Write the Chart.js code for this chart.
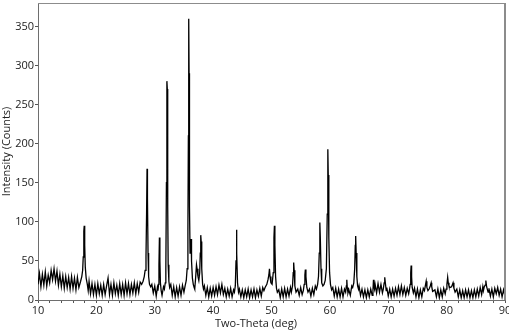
<!DOCTYPE html>
<html>
<head>
<meta charset="utf-8">
<script src="https://cdn.jsdelivr.net/npm/chart.js@4/dist/chart.umd.min.js"></script>
<style>
  html, body { margin: 0; padding: 0; background: #fff; }
  #wrap { width: 509px; height: 330px; }
</style>
</head>
<body>
<div id="wrap"><canvas id="xrd-chart"></canvas></div>
<script>
// background between the peaks, [two-theta, counts]
const lowAngle = [
    [10,20],[10.25,34],[10.5,17],[10.75,33],[11,19],[11.25,36],[11.5,18],[11.75,32],[12,22],[12.25,38],
    [12.5,26],[12.75,40],[13,24],[13.25,37],[13.5,19],[13.75,33],[14,17],[14.25,31],[14.5,15],[14.75,30],
    [15,16],[15.25,29],[15.5,14],[15.75,30],[16,15],[16.25,28],[16.5,13],[16.75,29],[17,16],
    [18.6,12],[18.75,24],[19,8],[19.25,21],[19.5,7],[19.75,20],[20,6],[20.25,21],[20.5,8],[20.75,19],
    [21,6],[21.25,20],[21.5,7],[21.75,18],[22,28],[22.25,7],[22.5,20],[22.75,6],[23,22],[23.25,8],
    [23.5,19],[23.75,6],[24,21],[24.25,7],[24.5,20],[24.75,6],[25,22],[25.25,8],[25.5,21],[25.75,7],
    [26,20],[26.25,9],[26.5,22],[26.75,8],[27,21],[27.25,10],[27.5,23]
];
const midAngle = [
    [29.5,20],[29.75,9],[30,18],[30.25,5],[30.45,16],
    [31.25,6],[31.5,17],
    [32.75,20],[33,6],[33.25,17],[33.5,4],[33.75,16],[34,5],[34.25,17],[34.5,6],[34.75,19],[35,10],
    [38.5,18],[38.75,6],[39,16],[39.25,4],[39.5,15],[39.75,5],[40,16],[40.25,6],[40.5,17],[40.75,7],
    [41,19],[41.25,9],[41.5,20],[41.75,7],[42,15],[42.25,4],[42.5,14],[42.75,5],[43,15],[43.25,4],[43.5,13],
    [44.5,14],[44.75,4],[45,13],[45.25,3],[45.5,13],[45.75,4],[46,14],[46.25,3],[46.5,13],[46.75,4],
    [47,14],[47.25,3],[47.5,13],[47.75,5],[48,15],[48.25,5],[48.5,16],
    [51.25,13],[51.5,3],[51.75,14],[52,4],[52.25,15],[52.5,4],[52.75,14],[53,5],[53.25,16],
    [54.5,14],[54.75,6],[55,16],[55.25,7],
    [56.5,14],[56.75,5],[57,15],[57.25,7],[57.5,18],
    [60.5,16],[60.75,5],[61,15],[61.25,4],[61.5,14],[61.75,4],[62,15],[62.25,4],[62.5,14],
    [63.25,13],[63.5,6],[63.75,18]
];
const highAngle = [
    [65,18],[65.25,6],[65.5,14],[65.75,4],[66,13],[66.25,3],[66.5,13],[66.75,4],[67,14],[67.25,6],
    [67.75,20],[68,9],[68.25,21],[68.5,10],[68.75,20],[69,9],
    [69.75,16],[70,5],[70.25,14],[70.5,4],[70.75,14],[71,5],[71.25,15],[71.5,6],[71.75,17],[72,7],
    [72.25,18],[72.5,7],[72.75,16],[73,6],[73.25,15],[73.5,8],
    [74.5,15],[74.75,4],[75,14],[75.25,3],[75.5,13],[75.75,4],[76,15],
    [78,13],[78.25,4],[78.5,14],[78.75,3],[79,13],[79.25,4],[79.5,15],[79.75,8],
    [81.75,14],[82,4],[82.25,13],[82.5,3],[82.75,12],[83,3],[83.25,13],[83.5,4],[83.75,13],[84,3],
    [84.25,12],[84.5,3],[84.75,13],[85,4],[85.25,14],[85.5,5],[85.75,16],[86,7],[86.2,17],
    [87.25,15],[87.5,5],[87.75,14],[88,4],[88.25,15],[88.5,8],[88.75,16],[89,6],[89.25,14],[89.5,4],
    [89.75,13],[90,5]
];
// reflections, [two-theta, counts]
const peaks = [
    [17.3,24],[17.5,30],[17.65,38],[17.75,55],[17.85,88],[17.92,95],[18.0,70],[18.1,42],[18.25,28],[18.45,20],
    [27.75,20],[28.0,24],[28.2,30],[28.35,38],[28.5,55],[28.6,110],[28.68,168],[28.75,130],[28.85,60],[28.95,30],[29.1,20],[29.3,17],
    [30.55,12],[30.65,20],[30.72,45],[30.8,80],[30.88,50],[30.97,22],[31.1,12],
    [31.65,14],[31.8,22],[31.9,40],[32.0,150],[32.08,280],[32.15,270],[32.22,120],[32.3,45],[32.42,24],[32.55,16],
    [35.2,18],[35.4,25],[35.55,40],[35.68,90],[35.76,210],[35.82,360],[35.88,290],[35.95,120],[36.05,60],
    [36.15,72],[36.22,78],[36.3,50],[36.45,28],[36.6,20],[36.75,16],
    [36.85,14],[37.0,28],[37.15,45],[37.25,40],[37.4,30],[37.55,25],[37.7,35],[37.8,60],[37.88,83],[37.95,75],
    [38.05,40],[38.2,20],[38.35,14],
    [43.65,10],[43.8,18],[43.92,50],[44.0,90],[44.07,60],[44.18,22],[44.35,10],
    [48.7,12],[48.9,16],[49.2,20],[49.4,26],[49.55,32],[49.65,40],[49.75,30],[49.9,22],[50.1,20],[50.3,35],
    [50.42,80],[50.5,95],[50.58,70],[50.7,30],[50.85,15],[51.0,10],
    [53.4,10],[53.6,18],[53.72,35],[53.8,48],[53.88,38],[54.0,18],[54.2,10],
    [55.45,12],[55.6,20],[55.72,32],[55.8,39],[55.9,30],[56.05,16],[56.25,10],
    [57.7,14],[57.9,20],[58.05,30],[58.18,60],[58.28,99],[58.36,80],[58.48,40],[58.6,22],[58.8,18],[59.0,20],
    [59.2,25],[59.4,40],[59.55,110],[59.65,193],[59.72,160],[59.82,80],[59.95,35],[60.1,20],[60.3,13],
    [62.7,10],[62.82,18],[62.9,26],[62.98,16],[63.1,9],
    [63.9,16],[64.1,22],[64.25,40],[64.35,70],[64.42,82],[64.5,60],[64.62,30],[64.75,18],[64.9,14],
    [67.38,12],[67.47,26],[67.55,18],[67.65,14],
    [69.15,14],[69.3,22],[69.4,29],[69.5,22],[69.65,12],
    [73.6,12],[73.75,20],[73.85,35],[73.92,44],[74.0,30],[74.1,16],[74.3,9],
    [76.2,12],[76.35,18],[76.5,24],[76.62,16],[76.8,12],[77.0,14],[77.2,18],[77.35,22],[77.45,17],[77.6,11],
    [79.9,14],[80.05,20],[80.18,29],[80.28,22],[80.4,18],[80.6,16],[80.85,17],[81.0,20],[81.1,22],[81.25,15],[81.45,10],
    [86.3,12],[86.45,17],[86.6,19],[86.72,25],[86.85,17],[87.0,13],[87.1,10]
];
const xTicks = [10, 20, 30, 40, 50, 60, 70, 80, 90];
const yTicks = [0, 50, 100, 150, 200, 250, 300, 350];

const points = lowAngle.concat(midAngle, highAngle, peaks)
    .sort((a, b) => a[0] - b[0])
    .map(p => ({ x: p[0], y: p[1] }));

const font = { family: '"Open Sans", "Noto Sans", sans-serif', size: 11 };

// grey box round the plot, and the x title which sits left of centre
const frame = {
    id: 'frame',
    afterDraw(chart) {
        const a = chart.chartArea, c = chart.ctx;
        c.save();
        c.strokeStyle = '#8c8c8c';
        c.lineWidth = 1;
        c.beginPath();
        c.moveTo(a.left, a.top + 0.5);
        c.lineTo(a.right, a.top + 0.5);
        c.stroke();
        c.lineWidth = 2;
        c.beginPath();
        c.moveTo(a.right, a.top);
        c.lineTo(a.right, a.bottom);
        c.stroke();
        c.fillStyle = '#222';
        c.font = '11px "Open Sans", "Noto Sans", sans-serif';
        c.textAlign = 'center';
        c.textBaseline = 'alphabetic';
        c.fillText('Two-Theta (deg)', 256, 327);
        c.restore();
    }
};

new Chart(document.getElementById('xrd-chart').getContext('2d'), {
    type: 'scatter',
    data: {
        datasets: [{
            data: points,
            showLine: true,
            borderColor: '#000',
            borderWidth: 1.3,
            pointRadius: 0,
            tension: 0
        }]
    },
    options: {
        responsive: true,
        maintainAspectRatio: false,
        animation: false,
        layout: { padding: { top: 3, right: 4, left: 0, bottom: 0 } },
        plugins: { legend: { display: false }, tooltip: { enabled: false } },
        scales: {
            x: {
                type: 'linear', min: 10, max: 90,
                afterFit: s => { s.height = 30; s.paddingLeft = 0; s.paddingRight = 0; },
                grid: { drawOnChartArea: false, tickLength: 3, color: '#555' },
                border: { color: '#6e6e6e' },
                ticks: {
                    stepSize: 2, autoSkip: false, maxRotation: 0, padding: 1, color: '#222', font: font,
                    callback: v => xTicks.includes(v) ? v : ''
                }
            },
            y: {
                min: 0, max: 380,
                afterFit: s => { s.width = 38; s.paddingTop = 0; s.paddingBottom = 0; },
                grid: { drawOnChartArea: false, tickLength: 3, color: '#555' },
                border: { color: '#6e6e6e' },
                ticks: {
                    stepSize: 50, includeBounds: false, padding: 1, color: '#222', font: font,
                    callback: v => yTicks.includes(v) ? v : ''
                },
                title: { display: true, text: 'Intensity (Counts)', color: '#222', font: font, padding: 0 }
            }
        }
    },
    plugins: [frame]
});
</script>
</body>
</html>
